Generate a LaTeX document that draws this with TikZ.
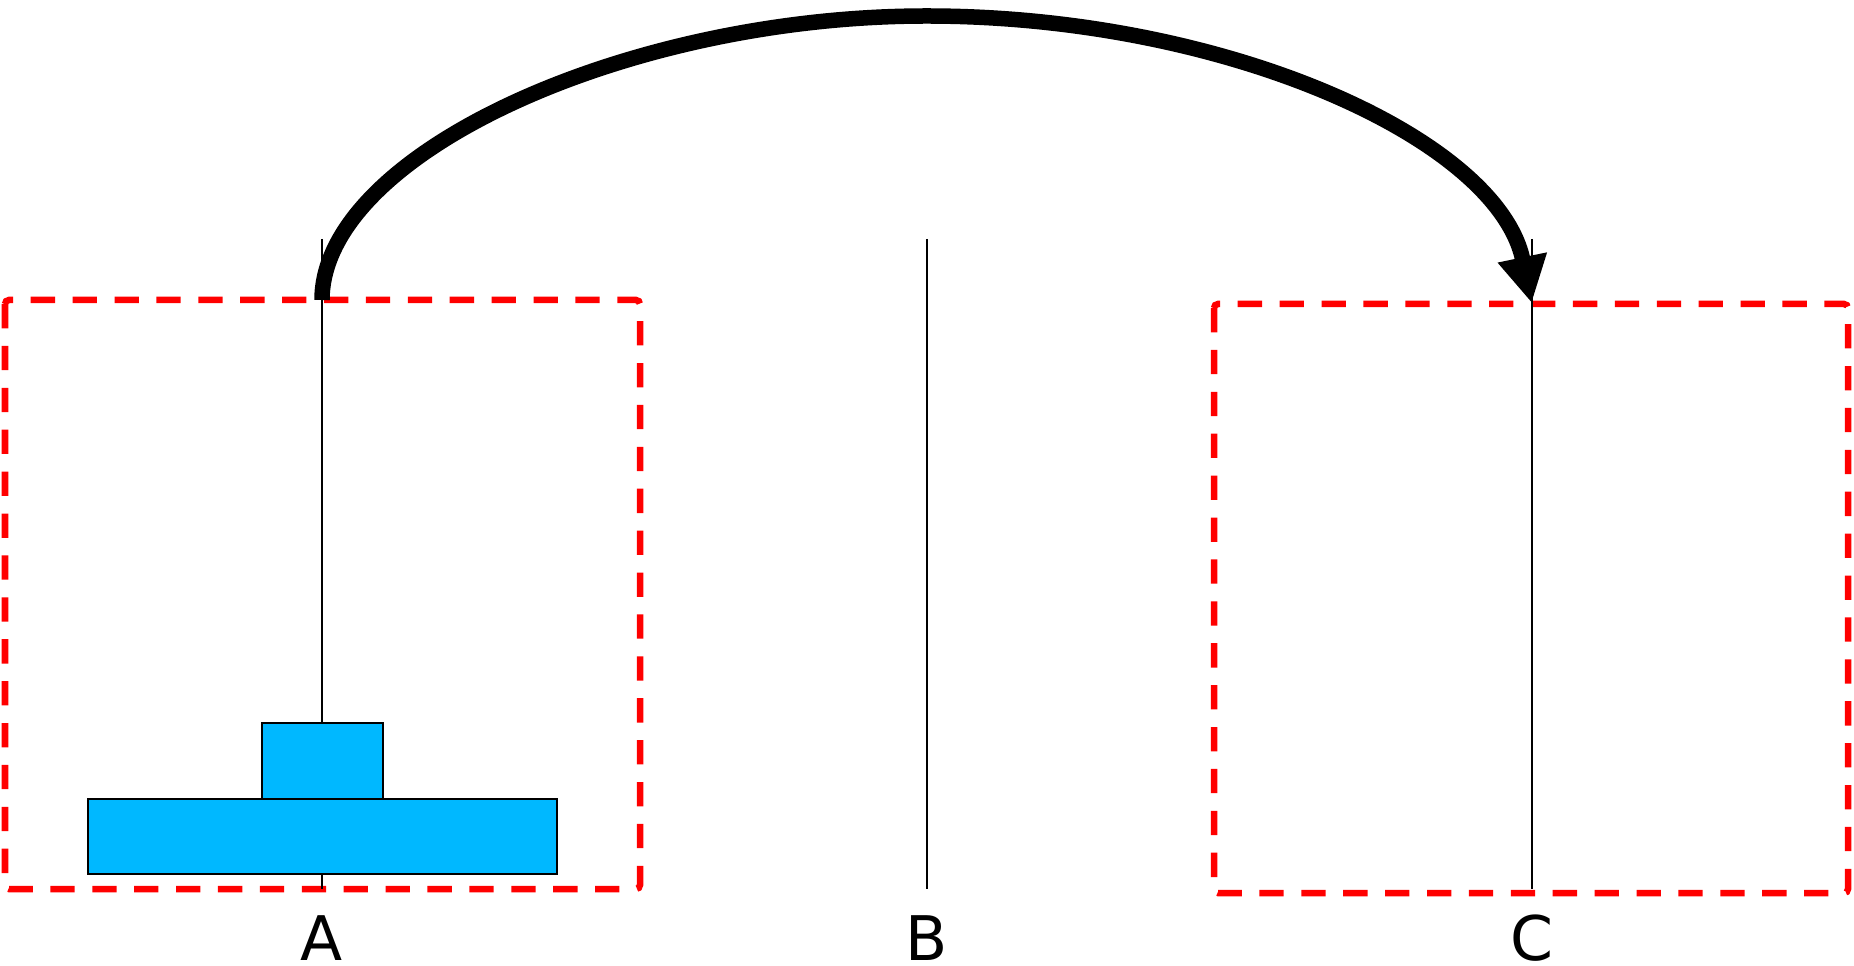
\documentclass[tikz,border=0pt]{standalone}
\usepackage{fontspec}
\setmainfont{DejaVu Sans}
\usetikzlibrary{arrows.meta,positioning}
\definecolor{diskblue}{RGB}{0,184,255}
\definecolor{framered}{RGB}{255,0,0}
\newcommand{\towerframe}[4]{\draw[framered,line width=1.3mm,dash pattern=on 4.86mm off 3.52mm,rounded corners=0.8mm] (#1,#2) rectangle (#3,#4);}
\newcommand{\pegline}[1]{\draw[black,line width=0.4mm] (#1,239) -- (#1,889);}
\newcommand{\diskbox}[4]{\filldraw[fill=diskblue,draw=black,line width=0.4mm] (#1,#2) rectangle (#3,#4);}
\newcommand{\peglabel}[3]{\node[font=\fontsize{35}{42}\selectfont,inner sep=0pt] (#1) at (#2,938) {#3};}

\begin{document}
\begin{tikzpicture}[x=0.2mm,y=-0.2mm]
	\useasboundingbox (0,0) rectangle (1854,966);
	\towerframe{5}{300}{640}{889} \towerframe{1214}{304}{1848}{893}
	\pegline{322} \pegline{927} \pegline{1531.7}
	\diskbox{87.6}{799}{556.7}{874} \diskbox{261.7}{723}{382.6}{799}
	\peglabel{labA}{322}{A} \peglabel{labB}{927}{B} \peglabel{labC}{1531.7}{C}
	\coordinate (fromA) at (322,300);
	\coordinate (arcpeak) at (926.7,16);
	\coordinate (toC) at (1531.7,303);
	\draw[line width=3.1mm,-{Triangle[length=9.3mm,width=9.4mm]}] (fromA) .. controls (322,155) and (625,16) .. (arcpeak) .. controls (1228,16) and (1498,140) .. (toC);
\end{tikzpicture}
\end{document}
